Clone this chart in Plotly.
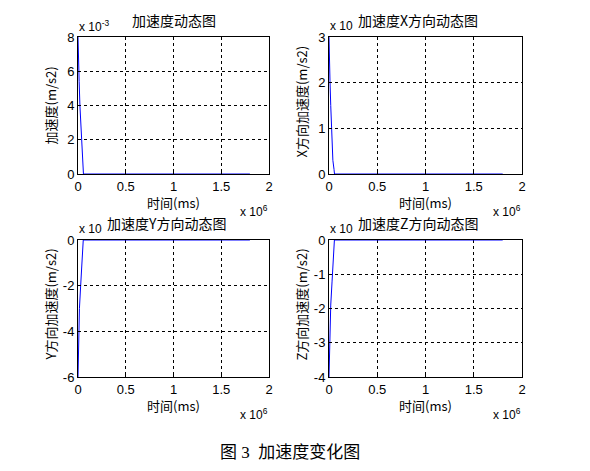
import plotly.graph_objects as go

# page body has an 8px margin, so figure is drawn 8px smaller and shifted
OFF = 8
W, H = 590 - 2 * OFF, 471 - 2 * OFF

# ---- data (time in ms, acceleration in m/s2) ----
t_total = [0, 3e3, 8e3, 12e3, 20e3, 30e3, 38e3, 45e3, 52e3, 57e3, 1.8e6]
a_total = [8e-3, 7e-3, 6e-3, 5.4e-3, 4e-3, 3e-3, 2.3e-3, 1.5e-3, 0.8e-3, 0, 0]

t_x = [0, 2e3, 10e3, 18e3, 28e3, 40e3, 52e3, 57e3, 1.8e6]
a_x = [3e-3, 2.7e-3, 2.05e-3, 1.5e-3, 0.9e-3, 0.3e-3, 0.1e-3, 0, 0]

t_y = [0, 2e3, 6e3, 15e3, 28e3, 38e3, 48e3, 55e3, 1.8e6]
a_y = [-6e-3, -5.4e-3, -4.2e-3, -3e-3, -2e-3, -1e-3, -0.5e-3, 0, 0]

t_z = [0, 2e3, 8e3, 18e3, 32e3, 42e3, 50e3, 56e3, 1.8e6]
a_z = [-4e-3, -3.6e-3, -2.8e-3, -1.9e-3, -1.2e-3, -0.8e-3, -0.4e-3, 0, 0]

x_ticks = [0, 0.5e6, 1e6, 1.5e6, 2e6]
x_ticktext = ["0", "0.5", "1", "1.5", "2"]

titles = ["加速度动态图", "加速度X方向动态图", "加速度Y方向动态图", "加速度Z方向动态图"]
ylabels = ["加速度(m/s2)", "X方向加速度(m/s2)", "Y方向加速度(m/s2)", "Z方向加速度(m/s2)"]
xlabel = "时间(ms)"
y_ticks = [[0, 2e-3, 4e-3, 6e-3, 8e-3], [0, 1e-3, 2e-3, 3e-3],
           [-6e-3, -4e-3, -2e-3, 0], [-4e-3, -3e-3, -2e-3, -1e-3, 0]]
y_ticktext = [["0", "2", "4", "6", "8"], ["0", "1", "2", "3"],
              ["-6", "-4", "-2", "0"], ["-4", "-3", "-2", "-1", "0"]]
y_ranges = [[0, 8e-3], [0, 3e-3], [-6e-3, 0], [-4e-3, 0]]
caption = "图 3  加速度变化图"

series = [(t_total, a_total), (t_x, a_x), (t_y, a_y), (t_z, a_z)]

# ---- layout in (reference) pixels ----
boxes = [(78, 269, 37, 174), (329, 522, 37, 174), (78, 269, 240, 377), (329, 522, 240, 377)]
def fx(p): return (p - OFF) / W
def fy(p): return 1 - (p - OFF) / H

FONT = "Liberation Sans, Arial, Noto Sans CJK SC"
CJK = "Noto Sans CJK SC, Liberation Sans"

fig = go.Figure()
layout = dict(width=W, height=H, margin=dict(l=0, r=0, t=0, b=0, autoexpand=False),
              paper_bgcolor="white", plot_bgcolor="white", showlegend=False)
annotations = []
for i, ((tx, ay), (x0, x1, y0, y1)) in enumerate(zip(series, boxes)):
    xa = "xaxis" if i == 0 else f"xaxis{i+1}"
    ya = "yaxis" if i == 0 else f"yaxis{i+1}"
    xr = "x" if i == 0 else f"x{i+1}"
    yr = "y" if i == 0 else f"y{i+1}"
    fig.add_trace(go.Scatter(x=tx, y=ay, mode="lines", xaxis=xr, yaxis=yr,
                             line=dict(color="#0000ff", width=1)))
    common = dict(showline=True, linecolor="black", linewidth=1, mirror=True,
                  showgrid=True, gridcolor="black", gridwidth=1, griddash="3px,3px",
                  zeroline=False, ticks="inside", ticklen=3, tickcolor="black",
                  automargin=False,
                  tickfont=dict(family=FONT, size=13, color="black"))
    layout[xa] = dict(common, domain=[fx(x0), fx(x1)], anchor=yr, range=[0, 2e6],
                      tickvals=x_ticks, ticktext=x_ticktext)
    layout[ya] = dict(common, domain=[fy(y1), fy(y0)], anchor=xr, range=y_ranges[i],
                      tickvals=y_ticks[i], ticktext=y_ticktext[i])
    cx = (x0 + x1) / 2
    # x label
    annotations.append(dict(text=xlabel, x=fx(cx), y=fy(y1 + 28), xref="paper", yref="paper",
                            showarrow=False, font=dict(family=CJK, size=13, color="black"),
                            xanchor="center", yanchor="middle"))
    # x exponent
    annotations.append(dict(text="x 10<sup>6</sup>", x=fx(x1 + 1), y=fy(y1 + 37), xref="paper", yref="paper",
                            showarrow=False, font=dict(family=FONT, size=12, color="black"),
                            xanchor="right", yanchor="middle"))
    # y exponent
    exp_text = "x 10<sup>-3</sup>" if i == 0 else "x 10"
    annotations.append(dict(text=exp_text, x=fx(x0 - 1), y=fy(y0 - 11), xref="paper", yref="paper",
                            showarrow=False, font=dict(family=FONT, size=12, color="black"),
                            xanchor="left", yanchor="middle"))
    # title
    if i == 0:
        annotations.append(dict(text=titles[i], x=fx(cx), y=fy(y0 - 17),
                                xref="paper", yref="paper", showarrow=False,
                                font=dict(family=CJK, size=14, color="black"),
                                xanchor="center", yanchor="middle"))
    else:
        annotations.append(dict(text=titles[i], x=fx(x0 + 27), y=fy(y0 - 17),
                                xref="paper", yref="paper", showarrow=False,
                                font=dict(family=CJK, size=14, color="black"),
                                xanchor="left", yanchor="middle"))
    # y label
    annotations.append(dict(text=ylabels[i], x=fx(x0 - 28), y=fy((y0 + y1) / 2 + (0 if i == 0 else -4)),
                            xref="paper", yref="paper", showarrow=False, textangle=-90,
                            font=dict(family=CJK, size=13, color="black"),
                            xanchor="center", yanchor="middle"))

annotations.append(dict(text=caption, x=fx(290), y=fy(452), xref="paper", yref="paper",
                        showarrow=False, font=dict(family="Liberation Serif, Noto Sans CJK SC", size=17, color="black"),
                        xanchor="center", yanchor="middle"))
layout["annotations"] = annotations
fig.update_layout(**layout)
fig.write_html("out.html")
